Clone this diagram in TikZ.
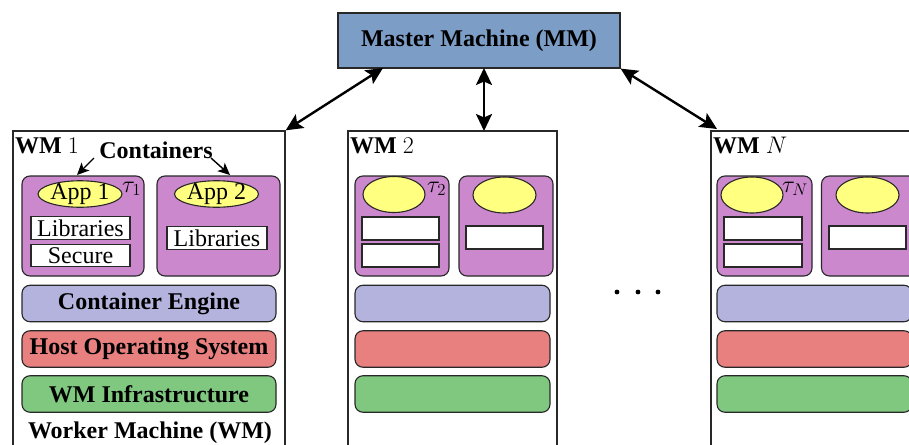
\RequirePackage{fix-cm}
\documentclass[tikz,border=0pt]{standalone}
\usepackage{fontspec}
\setmainfont{Liberation Serif}
\usetikzlibrary{shapes.geometric,arrows.meta}

\definecolor{mmblue}{RGB}{124,157,198}
\definecolor{ctpurple}{RGB}{204,136,204}
\definecolor{appyellow}{RGB}{255,255,128}
\definecolor{enginecol}{RGB}{179,179,221}
\definecolor{hostcol}{RGB}{232,128,128}
\definecolor{infracol}{RGB}{128,200,128}
\definecolor{edgegray}{RGB}{40,40,40}

\tikzset{
  big/.style={font=\fontsize{24}{28}\selectfont},
  wmbox/.style={draw=edgegray, line width=1.4pt, fill=white, inner sep=0pt},
  mmbox/.style={draw=edgegray, line width=1.2pt, fill=mmblue, inner sep=0pt,
                minimum width=282pt, minimum height=55pt, font=\fontsize{24}{28}\selectfont\bfseries},
  cont/.style={draw=edgegray, line width=1.1pt, fill=ctpurple, rounded corners=8pt,
               inner sep=0pt, minimum height=100pt},
  app/.style={ellipse, draw=edgegray, line width=1.1pt, fill=appyellow, inner sep=0pt,
              text height=14.5pt, text depth=3.5pt, big},
  libbox/.style={draw=edgegray, line width=1.1pt, fill=white, inner sep=0pt,
                 minimum height=22.5pt, text height=16pt, text depth=0pt, big},
  layer/.style={draw=edgegray, line width=1.1pt, rounded corners=8pt, inner sep=0pt,
                minimum height=36.5pt, font=\fontsize{24}{28}\selectfont\bfseries},
  link/.style={line width=2.4pt, {Stealth[length=17pt,width=16pt,inset=3.5pt]}-{Stealth[length=17pt,width=16pt,inset=3.5pt]}},
  pointer/.style={line width=1.4pt, -{Stealth[length=12pt,width=11pt,inset=3pt]}},
  lbl/.style={inner sep=0pt, big}
}

\begin{document}
\begin{tikzpicture}[x=1pt, y=-1pt]
\useasboundingbox (0,0) rectangle (909,444);
\clip (0,0) rectangle (909,444);

% master machine
\node[mmbox] (mm) at (479,40.5) {Master Machine (MM)};

% worker machine frames (they run past the lower edge)
\node[wmbox, minimum width=272pt, minimum height=340pt] (wm1) at (149,301) {};
\node[wmbox, minimum width=209pt, minimum height=340pt] (wm2) at (452.5,301) {};
\node[wmbox, minimum width=209pt, minimum height=340pt] (wmN) at (815.5,301) {};

\node[lbl, anchor=base west] (wm1lbl) at (15,153) {\textbf{WM} $1$};
\node[lbl, anchor=base west] (wm2lbl) at (350,153) {\textbf{WM} $2$};
\node[lbl, anchor=base west] (wmNlbl) at (713,153) {\textbf{WM} $N$};

% ---- worker machine 1 ----
\node[cont, minimum width=122pt] (c11) at (83,226) {};
\node[cont, minimum width=123pt] (c12) at (218.5,226) {};
\node[app, minimum width=82pt, minimum height=26.5pt] (a11) at (80,194) {App 1};
\node[app, minimum width=82pt, minimum height=26.5pt] (a12) at (216.5,194) {App 2};
\node[lbl, anchor=base west] (t1) at (122,192) {$\tau_1$};
\node[libbox, minimum width=99pt] (l11) at (80.5,228) {Libraries};
\node[libbox, minimum width=99pt] (s11) at (80.5,255.5) {Secure};
\node[libbox, minimum width=100pt] (l12) at (217,238) {Libraries};
\node[layer, fill=enginecol, minimum width=254pt] (e1) at (149,303.5) {Container Engine};
\node[layer, fill=hostcol, minimum width=254pt] (h1) at (149,349) {Host Operating System};
\node[layer, fill=infracol, minimum width=254pt] (i1) at (149,394) {WM Infrastructure};
\node[lbl, anchor=base, font=\fontsize{24}{28}\selectfont\bfseries] (wmname) at (150,438) {Worker Machine (WM)};

\node[lbl, anchor=base, font=\fontsize{24}{28}\selectfont\bfseries] (ctl) at (156,158) {Containers};
\coordinate (ctlL) at (94,158);
\coordinate (ctlR) at (211,158);
\coordinate (ctlLend) at (77,175);
\coordinate (ctlRend) at (230,175);
\draw[pointer] (ctlL) -- (ctlLend);
\draw[pointer] (ctlR) -- (ctlRend);

% ---- worker machine 2 ----
\node[cont, minimum width=94pt] (c21) at (402,226) {};
\node[cont, minimum width=94pt] (c22) at (506,226) {};
\node[app, minimum width=62pt, minimum height=36pt] (a21) at (394,194.5) {};
\node[app, minimum width=63pt, minimum height=36pt] (a22) at (504.5,195) {};
\node[lbl, anchor=base west] (t2) at (427,192) {$\tau_2$};
\node[libbox, minimum width=77pt, minimum height=23pt] (l21) at (400.5,228.5) {};
\node[libbox, minimum width=77pt, minimum height=23pt] (s21) at (400.5,255.5) {};
\node[libbox, minimum width=77pt, minimum height=23pt] (l22) at (504.5,237.5) {};
\node[layer, fill=enginecol, minimum width=195pt] (e2) at (452.5,303.5) {};
\node[layer, fill=hostcol, minimum width=195pt] (h2) at (452.5,349) {};
\node[layer, fill=infracol, minimum width=195pt] (i2) at (452.5,394) {};

% ---- worker machine N ----
\node[cont, minimum width=95pt] (cN1) at (764.5,226) {};
\node[cont, minimum width=95pt] (cN2) at (869,226) {};
\node[app, minimum width=62pt, minimum height=36pt] (aN1) at (752,195) {};
\node[app, minimum width=63pt, minimum height=36pt] (aN2) at (867.5,195) {};
\node[lbl, anchor=base west] (tN) at (782,192) {$\tau_N$};
\node[libbox, minimum width=78pt, minimum height=23pt] (lN1) at (763,228.5) {};
\node[libbox, minimum width=78pt, minimum height=23pt] (sN1) at (763,255.5) {};
\node[libbox, minimum width=77pt, minimum height=23pt] (lN2) at (867.5,237.5) {};
\node[layer, fill=enginecol, minimum width=195pt] (eN) at (814.5,303.5) {};
\node[layer, fill=hostcol, minimum width=195pt] (hN) at (814.5,349) {};
\node[layer, fill=infracol, minimum width=195pt] (iN) at (814.5,394) {};

% ellipsis between the machines
\foreach \dx [count=\k] in {617,638,658}
  \fill (\dx,292) circle (2.4pt) coordinate (dot\k);

% links between master and workers
\coordinate (mmL) at (383,68);
\coordinate (mmM) at (484,68);
\coordinate (wm2top) at (484,131);
\coordinate (wmNtop) at (717,129);
\draw[link] (mmL) -- (wm1.north east);
\draw[link] (mmM) -- (wm2top);
\draw[link] (mm.south east) -- (wmNtop);
\end{tikzpicture}
\end{document}
